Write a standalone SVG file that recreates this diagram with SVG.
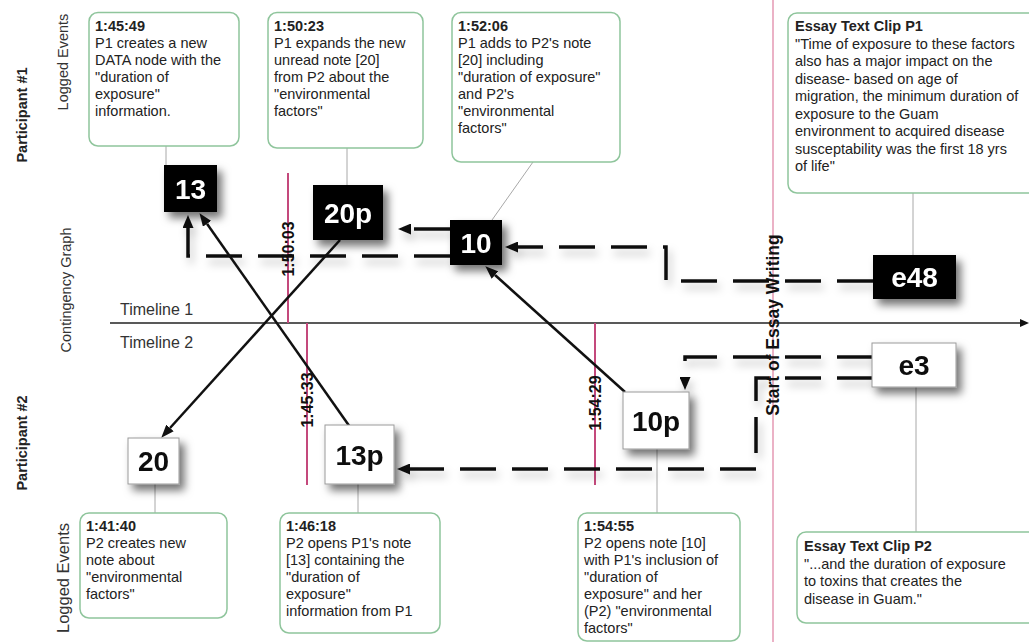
<svg xmlns="http://www.w3.org/2000/svg" width="1029" height="642" viewBox="0 0 1029 642">
<style>
.call{fill:#fff;stroke:#8fc59c;stroke-width:1.5}
.ct{font-family:"Liberation Sans",Arial,sans-serif;font-size:14.5px;fill:#222}
.ct .b{font-weight:bold}
.lead{stroke:#a8a8a8;stroke-width:1;fill:none}
.side{font-family:"Liberation Sans",Arial,sans-serif;font-size:14.5px;fill:#333}
.sideb{font-family:"Liberation Sans",Arial,sans-serif;font-size:14.5px;font-weight:bold;fill:#222}
.tl{font-family:"Liberation Sans",Arial,sans-serif;font-size:16px;fill:#333}
.stamp{font-family:"Liberation Sans",Arial,sans-serif;font-size:16px;font-weight:bold;fill:#111}
.pk{stroke:#c4497c;stroke-width:2}
.blk{fill:#000}
.wht{fill:#fff;stroke:#9a9a9a;stroke-width:1}
.nb{font-family:"Liberation Sans",Arial,sans-serif;font-size:28px;font-weight:bold;fill:#fff;text-anchor:middle}
.nw{font-family:"Liberation Sans",Arial,sans-serif;font-size:28px;font-weight:bold;fill:#111;text-anchor:middle}
.dash{fill:none;stroke:#111;stroke-width:3.5;stroke-dasharray:36 16;marker-end:url(#ahd)}
.sol{fill:none;stroke:#111;stroke-width:2.5;marker-end:url(#ahs)}
</style>
<defs>
<filter id="sh" x="-40%" y="-40%" width="190%" height="190%">
<feDropShadow dx="5" dy="6" stdDeviation="4" flood-color="#000" flood-opacity="0.55"/>
</filter>
<filter id="shl" x="-10%" y="-50%" width="120%" height="300%">
<feDropShadow dx="3" dy="6" stdDeviation="4" flood-color="#000" flood-opacity="0.25"/>
</filter>
<marker id="ahd" viewBox="0 0 13 11" refX="0" refY="5.5" markerWidth="13" markerHeight="11" markerUnits="userSpaceOnUse" orient="auto">
<path d="M0,0 L13,5.5 L0,11 z" fill="#111"/>
</marker>
<marker id="ahs" viewBox="0 0 13 10" refX="0" refY="5" markerWidth="13" markerHeight="10" markerUnits="userSpaceOnUse" orient="auto">
<path d="M0,0 L13,5 L0,10 z" fill="#111"/>
</marker>
<marker id="aht" viewBox="0 0 9 8" refX="0" refY="4" markerWidth="9" markerHeight="8" markerUnits="userSpaceOnUse" orient="auto">
<path d="M0,0 L9,4 L0,8 z" fill="#111"/>
</marker>
</defs>
<rect x="0" y="0" width="1029" height="642" fill="#fff"/>

<g id="side-labels">
<text class="sideb" transform="translate(27,115) rotate(-90)" text-anchor="middle">Participant #1</text>
<text class="side" transform="translate(68,62) rotate(-90)" text-anchor="middle">Logged Events</text>
<text class="side" transform="translate(71,290) rotate(-90)" text-anchor="middle">Contingency Graph</text>
<text class="sideb" transform="translate(27,443) rotate(-90)" text-anchor="middle">Participant #2</text>
<text class="side" style="font-size:16.5px" transform="translate(69,578) rotate(-90)" text-anchor="middle">Logged Events</text>
</g>

<g id="timeline">
<line x1="110" y1="323" x2="1020" y2="323" stroke="#222" stroke-width="1.5" marker-end="url(#aht)"/>
<text class="tl" x="120" y="315">Timeline 1</text>
<text class="tl" x="120" y="348">Timeline 2</text>
</g>

<g id="time-marks">
<line x1="773" y1="0" x2="773" y2="642" stroke="#ebb2c6" stroke-width="2"/>
<line class="pk" x1="288" y1="173" x2="288" y2="323"/>
<line class="pk" x1="307" y1="323" x2="307" y2="485"/>
<line class="pk" x1="595" y1="323" x2="595" y2="485"/>
<text class="stamp" transform="translate(294,249) rotate(-90)" text-anchor="middle">1:50:03</text>
<text class="stamp" transform="translate(313,400) rotate(-90)" text-anchor="middle">1:45:33</text>
<text class="stamp" transform="translate(601,403) rotate(-90)" text-anchor="middle">1:54:29</text>
<text class="stamp" style="font-size:17.5px" transform="translate(779,325) rotate(-90)" text-anchor="middle">Start of Essay Writing</text>
</g>

<g id="leaders">
<line class="lead" x1="166" y1="146" x2="166" y2="165"/>
<line class="lead" x1="347" y1="148" x2="347" y2="185"/>
<line class="lead" x1="533" y1="162" x2="492" y2="220"/>
<line class="lead" x1="913" y1="193" x2="913" y2="255"/>
<line class="lead" x1="916" y1="387" x2="916" y2="532"/>
<line class="lead" x1="155" y1="484" x2="155" y2="513"/>
<line class="lead" x1="358" y1="484" x2="358" y2="513"/>
<line class="lead" x1="657" y1="449" x2="657" y2="513"/>
</g>

<g id="ev-1-45-49">
<rect class="call" x="89" y="12.5" width="150" height="133.5" rx="9"/>
<text class="ct"><tspan class="b" x="95" y="31">1:45:49</tspan><tspan x="95" y="48">P1 creates a new</tspan><tspan x="95" y="65">DATA node with the</tspan><tspan x="95" y="82">"duration of</tspan><tspan x="95" y="99">exposure"</tspan><tspan x="95" y="116">information.</tspan></text>
</g>
<g id="ev-1-50-23">
<rect class="call" x="268" y="12.5" width="155" height="135.5" rx="9"/>
<text class="ct"><tspan class="b" x="274" y="31">1:50:23</tspan><tspan x="274" y="48">P1 expands the new</tspan><tspan x="274" y="65">unread note [20]</tspan><tspan x="274" y="82">from P2 about the</tspan><tspan x="274" y="99">"environmental</tspan><tspan x="274" y="116">factors"</tspan></text>
</g>
<g id="ev-1-52-06">
<rect class="call" x="452" y="12.5" width="168" height="149.5" rx="9"/>
<text class="ct"><tspan class="b" x="458" y="31">1:52:06</tspan><tspan x="458" y="48">P1 adds to P2's note</tspan><tspan x="458" y="65">[20] including</tspan><tspan x="458" y="82">"duration of exposure"</tspan><tspan x="458" y="99">and P2's</tspan><tspan x="458" y="116">"environmental</tspan><tspan x="458" y="133">factors"</tspan></text>
</g>
<g id="essay-p1">
<rect class="call" x="788" y="13" width="262" height="180" rx="9"/>
<text class="ct"><tspan class="b" x="795" y="31">Essay Text Clip P1</tspan><tspan x="795" y="48.5">"Time of exposure to these factors</tspan><tspan x="795" y="66">also has a major impact on the</tspan><tspan x="795" y="83.5">disease- based on age of</tspan><tspan x="795" y="101">migration, the minimum duration of</tspan><tspan x="795" y="118.5">exposure to the Guam</tspan><tspan x="795" y="136">environment to acquired disease</tspan><tspan x="795" y="153.5">susceptability was the first 18 yrs</tspan><tspan x="795" y="171">of life"</tspan></text>
</g>
<g id="ev-1-41-40">
<rect class="call" x="80" y="513" width="147" height="105" rx="9"/>
<text class="ct"><tspan class="b" x="86" y="531">1:41:40</tspan><tspan x="86" y="548">P2 creates new</tspan><tspan x="86" y="565">note about</tspan><tspan x="86" y="582">"environmental</tspan><tspan x="86" y="599">factors"</tspan></text>
</g>
<g id="ev-1-46-18">
<rect class="call" x="280" y="513" width="160" height="120" rx="9"/>
<text class="ct"><tspan class="b" x="286" y="531">1:46:18</tspan><tspan x="286" y="548">P2 opens P1's note</tspan><tspan x="286" y="565">[13] containing the</tspan><tspan x="286" y="582">"duration of</tspan><tspan x="286" y="599">exposure"</tspan><tspan x="286" y="616">information from P1</tspan></text>
</g>
<g id="ev-1-54-55">
<rect class="call" x="578" y="513" width="162" height="128" rx="9"/>
<text class="ct"><tspan class="b" x="584" y="531">1:54:55</tspan><tspan x="584" y="548">P2 opens note [10]</tspan><tspan x="584" y="565">with P1's inclusion of</tspan><tspan x="584" y="582">"duration of</tspan><tspan x="584" y="599">exposure" and her</tspan><tspan x="584" y="616">(P2) "environmental</tspan><tspan x="584" y="633">factors"</tspan></text>
</g>
<g id="essay-p2">
<rect class="call" x="797" y="532" width="253" height="91" rx="9"/>
<text class="ct"><tspan class="b" x="804" y="551">Essay Text Clip P2</tspan><tspan x="804" y="568.5">"...and the duration of exposure</tspan><tspan x="804" y="586">to toxins that creates the</tspan><tspan x="804" y="603.5">disease in Guam."</tspan></text>
</g>

<g id="connectors">
<g filter="url(#shl)">
<path class="dash" d="M873,281 H666 V247 H518"/>
<path class="dash" d="M450,229 H411"/>
<path class="dash" d="M450,256 H188 V228"/>
<path class="dash" d="M873,357 H685 V377"/>
<path class="dash" d="M873,378 H756 V469 H410"/>
</g>
<path class="sol" d="M350,427 L207,223.8"/>
<path class="sol" d="M340,240 L170,428"/>
<path class="sol" d="M625,392 L495,275"/>
</g>

<g id="n13" filter="url(#sh)"><rect class="blk" x="164" y="165" width="53" height="47"/><text class="nb" x="190.5" y="198.5">13</text></g>
<g id="n20p" filter="url(#sh)"><rect class="blk" x="313" y="185" width="70" height="55"/><text class="nb" x="348" y="222.5">20p</text></g>
<g id="n10" filter="url(#sh)"><rect class="blk" x="450" y="220" width="52" height="45"/><text class="nb" x="476" y="252.5">10</text></g>
<g id="ne48" filter="url(#sh)"><rect class="blk" x="873" y="255" width="83" height="44"/><text class="nb" x="914.5" y="287">e48</text></g>
<g id="n20" filter="url(#sh)"><rect class="wht" x="128" y="438" width="51" height="46"/><text class="nw" x="153.5" y="471">20</text></g>
<g id="n13p" filter="url(#sh)"><rect class="wht" x="325" y="425" width="69" height="59"/><text class="nw" x="359.5" y="464.5">13p</text></g>
<g id="n10p" filter="url(#sh)"><rect class="wht" x="623" y="392" width="66" height="57"/><text class="nw" x="656" y="430.5">10p</text></g>
<g id="ne3" filter="url(#sh)"><rect class="wht" x="872" y="343" width="84" height="44"/><text class="nw" x="914" y="375">e3</text></g>
</svg>
